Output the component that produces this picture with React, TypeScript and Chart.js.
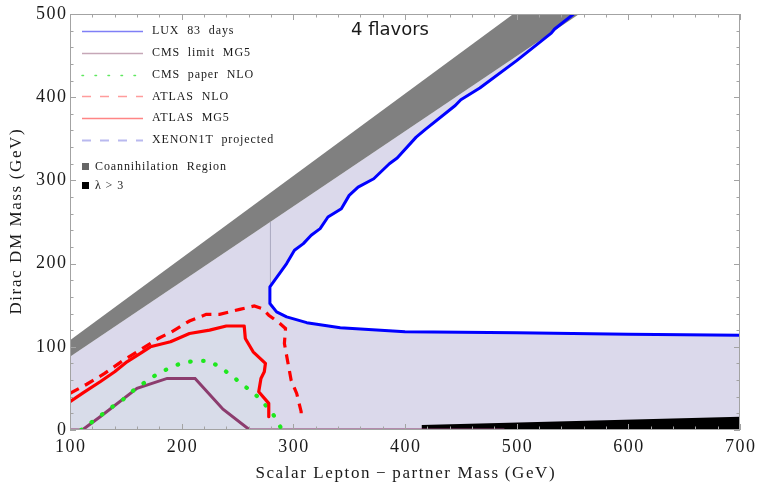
import React, { useEffect, useRef } from 'react';
import { Chart, registerables } from 'chart.js';
Chart.register(...registerables);

// Axis ticks
const xTicks = [100, 200, 300, 400, 500, 600, 700];
const yTicks = [0, 100, 200, 300, 400, 500];

// LUX 83 days (blue contour)
const luxX = [551, 534, 531, 500, 467, 450, 445, 418, 410, 393, 386, 372, 358, 350, 343, 331, 324, 316, 309, 301, 294, 279, 279, 285, 294, 312, 342, 400, 500, 600, 700];
const luxY = [500, 482, 477, 444, 411, 397, 390, 361, 352, 327, 320, 302, 292, 282, 266, 256, 242, 234, 224, 216, 200, 172, 152, 142, 136, 129, 123, 118, 117, 115, 114];

// ATLAS MG5 (red solid)
const atlasMgX = [100, 112, 127, 140, 151, 163, 172, 190, 207, 225, 240, 256, 257, 264, 275, 274, 271, 269, 278, 278];
const atlasMgY = [34, 45, 58, 70, 82, 92, 100, 106, 116, 120, 125, 125, 110, 94, 80, 70, 62, 46, 32, 16];

// ATLAS NLO (red dashed)
const atlasNloX = [100, 115, 131, 148, 160, 179, 191, 207, 222, 234, 252, 265, 272, 278, 288, 293, 292, 298, 303, 307, 307];
const atlasNloY = [44, 55, 68, 84, 94, 110, 118, 131, 139, 139, 145, 149, 146, 138, 128, 122, 104, 60, 44, 22, 12];

// CMS paper NLO (green dotted)
const cmsNloX = [110, 119, 130, 140, 149, 158, 169, 179, 190, 201, 213, 225, 236, 246, 255, 265, 273, 281, 287, 290];
const cmsNloY = [0, 9, 20, 30, 38, 49, 59, 68, 75, 81, 83, 83, 74, 64, 54, 44, 33, 21, 7, 0];

// CMS limit MG5 (purple)
const cmsMgX = [100, 111, 127, 160, 187, 212, 237, 261, 489];
const cmsMgY = [0, 0, 16, 50, 62, 62, 25, 0, 0];
const cmsMgUpperX = [279.5, 279.5];
const cmsMgUpperY = [172, 250];

// Coannihilation band
const coanX = [100, 556, 497, 100];
const coanY = [88, 500, 500, 108];

// lambda > 3 region
const lamX = [415, 415, 700, 700];
const lamY = [0, 6, 16, 0];

// XENON1T projected region boundary
const xenonX = [100, 100, 556, 700, 700];
const xenonY = [0, 88, 500, 500, 0];

const pts = (xs: number[], ys: number[]) => xs.map((x, i) => ({ x, y: ys[i] }));

const SERIF = "'Liberation Serif', 'DejaVu Serif', serif";

function txt(ctx: CanvasRenderingContext2D, s: string, x: number, y: number, font: string, align: CanvasTextAlign, spacing: number, color = '#1a1a1a') {
  ctx.save();
  ctx.font = font;
  (ctx as any).letterSpacing = spacing + 'px';
  ctx.fillStyle = color;
  ctx.textBaseline = 'middle';
  ctx.textAlign = align;
  let dx = 0;
  if (align === 'center') dx = spacing / 2;
  if (align === 'right') dx = spacing;
  ctx.fillText(s, x + dx, y);
  ctx.restore();
}

const decor = {
  id: 'decor',
  afterDatasetsDraw(chart: any) {
    const { ctx, chartArea: a, scales } = chart;
    const xs = scales.x, ys = scales.y;
    ctx.save();
    // frame
    ctx.strokeStyle = '#a3a3a3';
    ctx.lineWidth = 1;
    ctx.strokeRect(Math.round(a.left) + 0.5, Math.round(a.top) + 0.5, Math.round(a.right - a.left) - 1, Math.round(a.bottom - a.top) - 1);
    ctx.beginPath();
    for (let v = 100; v <= 700; v += 20) {
      const p = Math.round(xs.getPixelForValue(v)) + 0.5;
      const len = v % 100 === 0 ? 6 : 3.5;
      ctx.moveTo(p, a.bottom); ctx.lineTo(p, a.bottom - len);
      ctx.moveTo(p, a.top); ctx.lineTo(p, a.top + len);
    }
    for (let v = 0; v <= 500; v += 20) {
      const p = Math.round(ys.getPixelForValue(v)) + 0.5;
      const len = v % 100 === 0 ? 6 : 3.5;
      ctx.moveTo(a.left, p); ctx.lineTo(a.left + len, p);
      ctx.moveTo(a.right, p); ctx.lineTo(a.right - len, p);
    }
    ctx.stroke();
    ctx.restore();

    const tickFont = '18px ' + SERIF;
    xTicks.forEach(v => txt(ctx, String(v), xs.getPixelForValue(v), a.bottom + 17, tickFont, 'center', 1.5));
    yTicks.forEach(v => txt(ctx, String(v), a.left - 4, ys.getPixelForValue(v), tickFont, 'right', 1.5));

    // axis titles
    txt(ctx, 'Scalar Lepton\u2009\u2212\u2009partner Mass\u2009(GeV)', (a.left + a.right) / 2, 474, '17px ' + SERIF, 'center', 1.6);
    ctx.save();
    ctx.translate(17, (a.top + a.bottom) / 2);
    ctx.rotate(-Math.PI / 2);
    txt(ctx, 'Dirac DM Mass\u2009(GeV)', 0, 0, '17px ' + SERIF, 'center', 1.6);
    ctx.restore();

    // annotation
    txt(ctx, '4 flavors', 390, 30, "18px 'DejaVu Sans', sans-serif", 'center', 0, '#1a1a1a');

    // legend
    const lf = '12px ' + SERIF;
    const items: [string, string, number[], number][] = [
      ['LUX  83  days', '#7f7ff6', [], 1.4],
      ['CMS  limit  MG5', '#c6a7b7', [], 1.4],
      ['CMS  paper  NLO', '#5fe85f', [1.5, 11.5], 1.5],
      ['ATLAS  NLO', '#ff9c9c', [9, 9], 1.4],
      ['ATLAS  MG5', '#ff8585', [], 1.4],
      ['XENON1T  projected', '#b9b9ef', [9, 9], 2],
    ];
    const ly0 = 30.7, ldy = 21.9;
    items.forEach((it, i) => {
      const y = ly0 + i * ldy;
      ctx.save();
      ctx.strokeStyle = it[1];
      ctx.lineWidth = it[3];
      ctx.setLineDash(it[2]);
      ctx.lineCap = it[2].length && it[2][0] < 2 ? 'round' : 'butt';
      ctx.beginPath();
      ctx.moveTo(82, Math.round(y) + 0.5);
      ctx.lineTo(143, Math.round(y) + 0.5);
      ctx.stroke();
      ctx.restore();
      txt(ctx, it[0], 152, y, lf, 'left', 0.9);
    });
    const sq: [string, string, number][] = [
      ['Coannihilation  Region', '#666666', 166.5],
      ['\u03bb > 3', '#000000', 185.5],
    ];
    sq.forEach(s => {
      ctx.save();
      ctx.fillStyle = s[1];
      ctx.fillRect(82, s[2] - 3.5, 7, 7);
      ctx.restore();
      txt(ctx, s[0], 95, s[2], lf, 'left', 0.9);
    });
  },
};

export default function App() {
  const ref = useRef<HTMLCanvasElement | null>(null);
  useEffect(() => {
    document.body.style.margin = '0';
    const canvas = ref.current!;
    const poly = (xs: number[], ys: number[], color: string, order: number) => ({
      data: pts(xs, ys), fill: 'shape', backgroundColor: color, borderColor: 'rgba(0,0,0,0)', borderWidth: 0, order,
    });
    const line = (xs: number[], ys: number[], color: string, width: number, order: number, extra: any = {}) => ({
      data: pts(xs, ys), fill: false, borderColor: color, borderWidth: width, order, ...extra,
    });
    const chart = new Chart(canvas, {
      type: 'line',
      data: {
        datasets: [
          poly(xenonX, xenonY, '#dbd9eb', 20),
          poly([...luxX, 700], [...luxY, 500], '#ffffff', 19),
          poly([...atlasMgX, 278, 100], [...atlasMgY, 0, 0], '#d8dce9', 18),
          poly(coanX, coanY, '#808080', 17),
          poly(lamX, lamY, '#000000', 16),
          line(cmsMgUpperX, cmsMgUpperY, 'rgba(150,150,175,0.7)', 1, 15),
          line(cmsMgX, cmsMgY, '#8c3c6e', 3, 14),
          line(cmsNloX, cmsNloY, '#1ee81e', 4.2, 13, { borderDash: [0.5, 12.5], borderCapStyle: 'round' }),
          line(atlasNloX, atlasNloY, '#ff0000', 3.2, 12, { borderDash: [10, 7] }),
          line(atlasMgX, atlasMgY, '#ff0000', 3.2, 11, { borderJoinStyle: 'round' }),
          line(luxX, luxY, '#0000ff', 3, 10, { borderJoinStyle: 'round' }),
        ] as any,
      },
      options: {
        animation: false,
        responsive: false,
        devicePixelRatio: 1,
        layout: { padding: { left: 70, right: 20, top: 14, bottom: 58 } },
        elements: { point: { radius: 0, hoverRadius: 0 }, line: { tension: 0 } },
        scales: {
          x: { type: 'linear', min: 100, max: 700, display: false },
          y: { type: 'linear', min: 0, max: 500, display: false },
        },
        plugins: { legend: { display: false }, tooltip: { enabled: false } },
        events: [],
      },
      plugins: [decor],
    });
    return () => chart.destroy();
  }, []);
  return <canvas ref={ref} width={760} height={488} style={{ display: 'block' }} />;
}
